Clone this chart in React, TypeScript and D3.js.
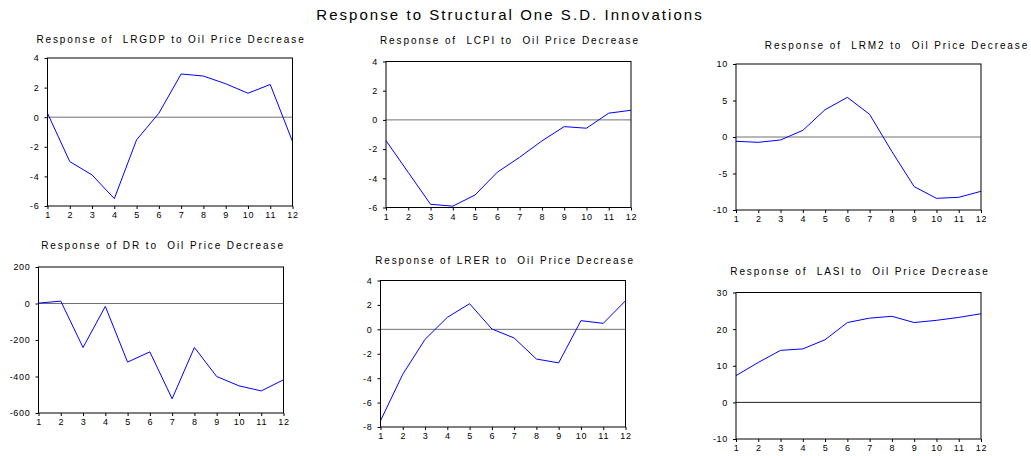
import React, { useEffect, useRef } from 'react';
import * as d3 from 'd3';

// horizon periods
const periods = [1, 2, 3, 4, 5, 6, 7, 8, 9, 10, 11, 12];

// impulse responses
const lrgdp = [0.27, -3.0, -3.9, -5.5, -1.53, 0.27, 2.92, 2.78, 2.26, 1.62, 2.21, -1.64];
const lcpi = [-1.42, -3.6, -5.78, -5.91, -5.14, -3.58, -2.56, -1.44, -0.46, -0.57, 0.46, 0.66];
const lrm2 = [-0.59, -0.73, -0.41, 0.91, 3.74, 5.43, 3.1, -2.0, -6.8, -8.4, -8.26, -7.44];
const dr = [2, 13, -241, -16, -321, -265, -522, -241, -400, -451, -479, -418];
const lrer = [-7.49, -3.68, -0.82, 0.98, 2.1, 0.03, -0.71, -2.43, -2.75, 0.71, 0.49, 2.34];
const lasi = [7.3, 10.9, 14.2, 14.6, 17.1, 21.8, 23.0, 23.5, 21.8, 22.4, 23.2, 24.2];

// y tick labels for each panel
const ticksLrgdp = [-6, -4, -2, 0, 2, 4];
const ticksLcpi = [-6, -4, -2, 0, 2, 4];
const ticksLrm2 = [-10, -5, 0, 5, 10];
const ticksDr = [-600, -400, -200, 0, 200];
const ticksLrer = [-8, -6, -4, -2, 0, 2, 4];
const ticksLasi = [-10, 0, 10, 20, 30];

const mainTitle = 'Response to Structural One S.D. Innovations';

const panels = [
    { title: 'Response of  LRGDP to Oil Price Decrease', values: lrgdp, ticks: ticksLrgdp, box: [47.5, 58, 245, 148], tx: 171, ty: 42.5, zero: '#707070' },
    { title: 'Response of  LCPI to  Oil Price Decrease', values: lcpi, ticks: ticksLcpi, box: [386, 61.5, 245, 146], tx: 510, ty: 44, zero: '#707070' },
    { title: 'Response of  LRM2 to  Oil Price Decrease', values: lrm2, ticks: ticksLrm2, box: [736, 64, 245, 146], tx: 897, ty: 48.5, zero: '#707070' },
    { title: 'Response of DR to  Oil Price Decrease', values: dr, ticks: ticksDr, box: [38.5, 267, 245, 146], tx: 163, ty: 249, zero: '#707070' },
    { title: 'Response of LRER to  Oil Price Decrease', values: lrer, ticks: ticksLrer, box: [380.5, 280.5, 245, 146.5], tx: 505, ty: 263.5, zero: '#707070' },
    { title: 'Response of  LASI to  Oil Price Decrease', values: lasi, ticks: ticksLasi, box: [736, 292.5, 245, 146.5], tx: 860, ty: 275, zero: '#202020' },
];

const FONT = '"Liberation Sans", Arial, sans-serif';

const App: React.FC = () => {
    const svgRef = useRef<SVGSVGElement>(null);

    useEffect(() => {
        if (!svgRef.current) return;
        const svg = d3.select(svgRef.current);
        svg.selectAll('*').remove();

        svg.append('rect').attr('width', 1031).attr('height', 456).attr('fill', '#fff');

        svg.append('text')
            .attr('x', 510)
            .attr('y', 20)
            .attr('text-anchor', 'middle')
            .style('font-family', FONT)
            .style('font-size', '15px')
            .style('letter-spacing', '2.05px')
            .attr('fill', '#000')
            .text(mainTitle);

        // plain hyphen for negatives, like the original
        const fmt = (d: d3.NumberValue) => String(d);

        panels.forEach((p) => {
            const [left, top, w, h] = p.box;
            const g = svg.append('g').attr('transform', `translate(${left},${top})`);

            const x = d3.scaleLinear().domain([1, 12]).range([0, w]);
            const y = d3.scaleLinear()
                .domain([d3.min(p.ticks)!, d3.max(p.ticks)!])
                .range([h, 0]);

            // panel title
            svg.append('text')
                .attr('x', p.tx)
                .attr('y', p.ty)
                .attr('text-anchor', 'middle')
                .style('font-family', FONT)
                .style('font-size', '10px')
                .style('letter-spacing', '1.9px')
                .style('white-space', 'pre')
                .attr('fill', '#000')
                .text(p.title);

            // zero line
            g.append('line')
                .attr('x1', 0).attr('x2', w)
                .attr('y1', y(0)).attr('y2', y(0))
                .attr('stroke', p.zero)
                .attr('stroke-width', 1);

            // response line
            const line = d3.line<number>()
                .x((_, i) => x(periods[i]))
                .y((d) => y(d));
            g.append('path')
                .datum(p.values)
                .attr('d', line)
                .attr('fill', 'none')
                .attr('stroke', '#0000ff')
                .attr('stroke-width', 1);

            // frame
            g.append('rect')
                .attr('width', w).attr('height', h)
                .attr('fill', 'none')
                .attr('stroke', '#000')
                .attr('stroke-width', 1);

            // axes
            const yAxisG = g.append('g')
                .call(d3.axisLeft(y).tickValues(p.ticks).tickSize(3).tickPadding(5).tickFormat(fmt) as any);
            yAxisG.select('.domain').remove();

            const xAxisG = g.append('g')
                .attr('transform', `translate(0,${h})`)
                .call(d3.axisBottom(x).tickValues(periods).tickSize(3).tickPadding(3).tickFormat(fmt) as any);
            xAxisG.select('.domain').remove();

            g.selectAll('.tick text')
                .attr('fill', '#000')
                .style('font-family', FONT)
                .style('font-size', '9px')
                .style('letter-spacing', '0.7px');
            g.selectAll('.tick line').attr('stroke', '#000');
        });
    }, []);

    return (
        <div style={{ position: 'absolute', left: 0, top: 0, width: 1031, height: 456, background: '#fff' }}>
            <svg ref={svgRef} width={1031} height={456} style={{ display: 'block' }} />
        </div>
    );
};

export default App;
